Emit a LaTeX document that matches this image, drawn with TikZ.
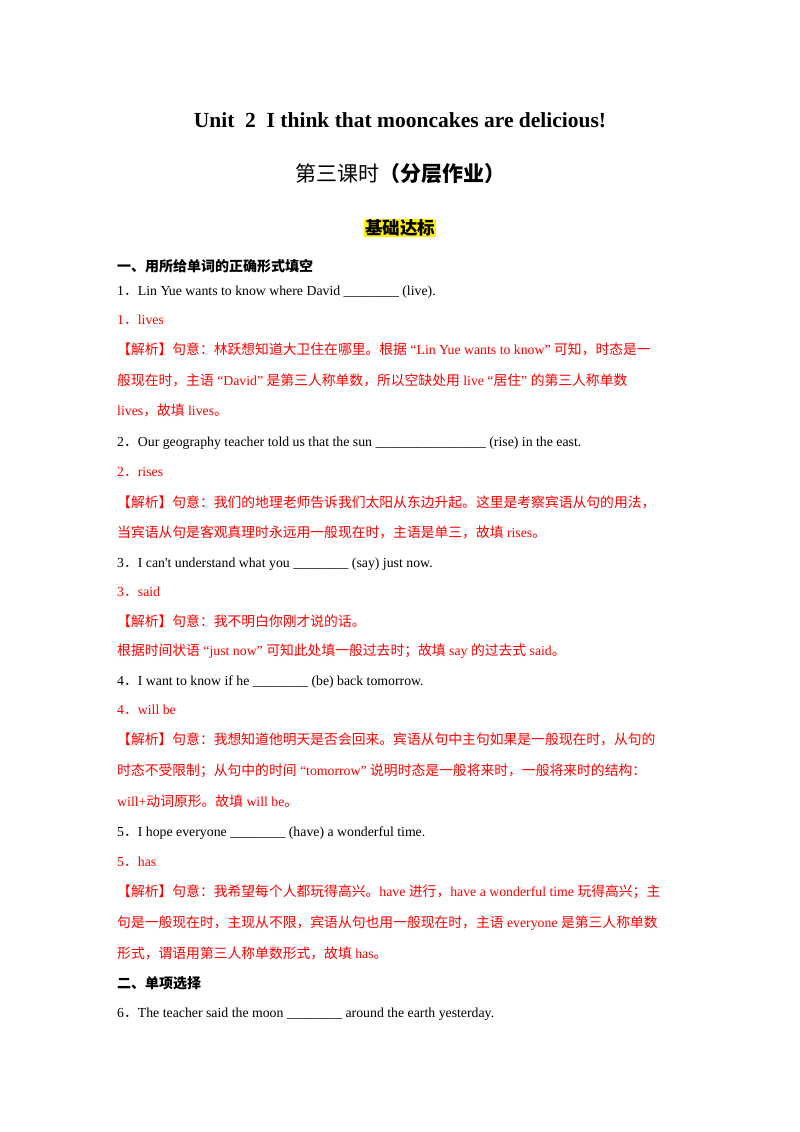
\documentclass[tikz,border=0pt]{standalone}
\usepackage{fontspec}
\setmainfont{Liberation Serif}
\newfontfamily\cjk{Noto Sans CJK SC}
\newfontfamily\latinf{Liberation Serif}
\XeTeXinterchartokenstate=1
\newXeTeXintercharclass\cjkclass
\newcount\mycnt
\mycnt="4E00
\loop\XeTeXcharclass\mycnt=\cjkclass\advance\mycnt 1 \ifnum\mycnt<"A000\repeat
\mycnt="3000
\loop\XeTeXcharclass\mycnt=\cjkclass\advance\mycnt 1 \ifnum\mycnt<"3040\repeat
\mycnt="FF00
\loop\XeTeXcharclass\mycnt=\cjkclass\advance\mycnt 1 \ifnum\mycnt<"FFF0\repeat
\XeTeXinterchartoks 0 \cjkclass = {\cjk}
\XeTeXinterchartoks 4095 \cjkclass = {\cjk}
\XeTeXinterchartoks \cjkclass 0 = {\latinf}
\XeTeXinterchartoks \cjkclass 4095 = {\latinf}
\begin{document}
\begin{tikzpicture}[x=1pt,y=-1pt,
  txt/.style={anchor=base west,inner sep=0,font=\fontsize{13.8}{16}\selectfont},
  red/.style={txt,text=red}]
\useasboundingbox (0,0) rectangle (800,1132);
\node[inner sep=0,font=\fontsize{21.5}{24}\selectfont\bfseries] (t1) at (400,120) {Unit\ \ 2\ \ I think that mooncakes are delicious!};
\node[inner sep=0,font=\fontsize{21}{24}\selectfont] (t2) at (400,174) {第三课时{\bfseries（分层作业）}};
\node[inner sep=1pt,fill=yellow,font=\fontsize{17.5}{20}\selectfont\bfseries] (t3) at (400,228) {基础达标};
\node[txt,font=\fontsize{14}{16}\selectfont\bfseries] (a1) at (117,271) {一、用所给单词的正确形式填空};
\node[txt] (a2) at (117,295) {1．Lin Yue wants to know where David \_\_\_\_\_\_\_\_ (live).};
\node[red] (a3) at (117,324) {1．lives};
\node[red,text width=553pt,align=justify] (a4) at (117,354) {【解析】句意：林跃想知道大卫住在哪里。根据 “Lin Yue wants to know” 可知，时态是一};
\node[red] (a5) at (117,385) {般现在时，主语 “David” 是第三人称单数，所以空缺处用 live “居住” 的第三人称单数};
\node[red] (a6) at (117,415) {lives，故填 lives。};
\node[txt] (a7) at (117,446) {2．Our geography teacher told us that the sun \_\_\_\_\_\_\_\_\_\_\_\_\_\_\_\_ (rise) in the east.};
\node[red] (a8) at (117,476) {2．rises};
\node[red] (a9) at (117,507) {【解析】句意：我们的地理老师告诉我们太阳从东边升起。这里是考察宾语从句的用法，};
\node[red] (a10) at (117,537) {当宾语从句是客观真理时永远用一般现在时，主语是单三，故填 rises。};
\node[txt] (a11) at (117,567) {3．I can't understand what you \_\_\_\_\_\_\_\_ (say) just now.};
\node[red] (a12) at (117,596) {3．said};
\node[red] (a13) at (117,626) {【解析】句意：我不明白你刚才说的话。};
\node[red] (a14) at (117,655) {根据时间状语 “just now” 可知此处填一般过去时；故填 say 的过去式 said。};
\node[txt] (a15) at (117,685) {4．I want to know if he \_\_\_\_\_\_\_\_ (be) back tomorrow.};
\node[red] (a16) at (117,714) {4．will be};
\node[red] (a17) at (117,744) {【解析】句意：我想知道他明天是否会回来。宾语从句中主句如果是一般现在时，从句的};
\node[red] (a18) at (117,775) {时态不受限制；从句中的时间 “tomorrow” 说明时态是一般将来时，一般将来时的结构：};
\node[red] (a19) at (117,806) {will+动词原形。故填 will be。};
\node[txt] (a20) at (117,836) {5．I hope everyone \_\_\_\_\_\_\_\_ (have) a wonderful time.};
\node[red] (a21) at (117,866) {5．has};
\node[red] (a22) at (117,896) {【解析】句意：我希望每个人都玩得高兴。have 进行，have a wonderful time 玩得高兴；主};
\node[red] (a23) at (117,927) {句是一般现在时，主现从不限，宾语从句也用一般现在时，主语 everyone 是第三人称单数};
\node[red] (a24) at (117,958) {形式，谓语用第三人称单数形式，故填 has。};
\node[txt,font=\fontsize{14}{16}\selectfont\bfseries] (a25) at (117,988) {二、单项选择};
\node[txt] (a26) at (117,1017) {6．The teacher said the moon \_\_\_\_\_\_\_\_ around the earth yesterday.};
\end{tikzpicture}
\end{document}
